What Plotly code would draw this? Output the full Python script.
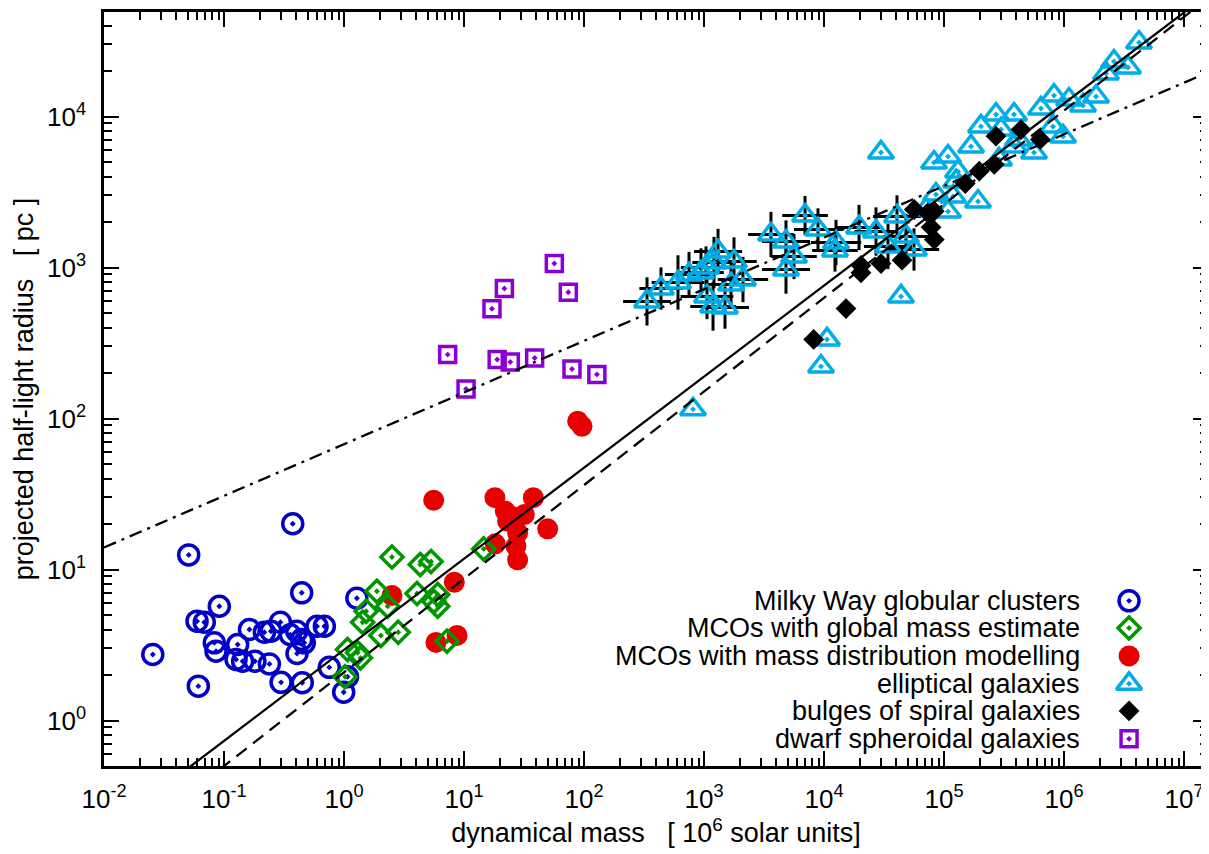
import math
import plotly.graph_objects as go

# ---------------- data (mass in 10^6 solar units, radius in pc) ----------------
gc_mass = [0.0255, 0.0508, 0.0611, 0.374, 0.444, 0.0914, 0.0596, 0.0685, 0.083, 0.0858,
           0.130, 0.126, 0.143, 0.163, 0.181, 0.217, 0.246, 0.239, 0.295, 0.357,
           0.404, 0.444, 0.467, 0.406, 0.299, 0.449, 0.596, 0.686, 0.754, 1.28,
           1.07, 0.994]
gc_rh = [2.74, 12.5, 1.69, 20.1, 7.01, 5.71, 4.55, 4.48, 3.27, 2.88,
         3.19, 2.54, 2.47, 4.01, 2.47, 3.84, 3.90, 2.37, 4.48, 3.70,
         3.90, 3.44, 3.27, 2.78, 1.79, 1.78, 4.21, 4.21, 2.25, 6.46,
         1.95, 1.54]

mco_glob_mass = [2.51, 4.32, 5.31, 1.88, 2.31, 1.53, 1.43, 2.03, 2.83, 4.06,
                 6.04, 6.04, 5.62, 1.07, 1.30, 1.37, 1.02, 7.21, 14.6]
mco_glob_rh = [12.1, 10.8, 11.3, 7.18, 5.71, 5.30, 4.48, 3.66, 3.84, 6.93,
               6.83, 5.71, 6.14, 2.95, 2.81, 2.60, 1.95, 3.35, 13.7]

mco_mod_mass = [2.51, 8.30, 5.84, 8.75, 5.59, 18.1, 37.8, 22.1, 23.1, 31.8,
                28.0, 49.8, 18.2, 27.1, 28.0, 88.6, 96.2, 25.6]
mco_mod_rh = [6.73, 8.24, 3.29, 3.66, 28.8, 29.9, 29.9, 24.3, 20.9, 23.1,
              17.5, 18.6, 14.8, 14.3, 11.6, 96.0, 88.9, 22.4]

# ellipticals with error bars (errors in dex)
ell_err_mass = [335, 438, 607, 750, 944, 1040, 1211, 1309, 1778, 1679,
                1059, 1189, 1496, 2113, 3614, 4822, 5623, 4822, 6950, 8913,
                12590, 12350, 19590, 27120, 40570, 48220, 56230, 34150]
ell_err_rh = [596, 726, 796, 899, 927, 1000, 1079, 1277, 1096, 771,
              643, 552, 543, 833, 1655, 1486, 1183, 970, 2208, 1786,
              1465, 1297, 1841, 1731, 2177, 1604, 1316, 1377]
ell_dex_m = [0.20, 0.18, 0.22, 0.20, 0.19, 0.21, 0.18, 0.20, 0.19, 0.20,
             0.22, 0.19, 0.20, 0.21, 0.19, 0.20, 0.19, 0.20, 0.19, 0.20,
             0.21, 0.19, 0.20, 0.18, 0.20, 0.19, 0.21, 0.20]
ell_dex_r = [0.16, 0.14, 0.18, 0.15, 0.16, 0.14, 0.17, 0.15, 0.16, 0.14,
             0.15, 0.16, 0.14, 0.15, 0.15, 0.14, 0.15, 0.16, 0.13, 0.14,
             0.15, 0.14, 0.15, 0.16, 0.14, 0.15, 0.14, 0.15]

ell_mass = [43850, 10590, 9441, 810, 29850, 82570, 108000, 130900, 118900, 191900,
            108000, 167900, 203200, 271200, 383100, 298500, 643100, 825700, 1.101e6, 1.439e6,
            1.849e6, 981700, 809700, 562300, 383100, 287400, 2.239e6, 2.61e6, 3.415e6, 4.217e6,
            125900, 413700, 85700, 70800]
ell_rh = [643, 334, 221, 115, 5777, 4957, 5433, 4325, 2953, 2735,
          2349, 6330, 8590, 10310, 10310, 8203, 11300, 13770, 12960, 11830,
          13560, 7375, 8590, 5777, 6330, 5192, 19270, 23130, 21120, 30900,
          3714, 7047, 3043, 2421]

bulge_mass = [8200, 15250, 20330, 20330, 29850, 44700, 83000, 78000, 56550, 83000,
              73100, 150450, 196800, 262400, 271000, 438500, 634600]
bulge_rh = [334, 535, 923, 1031, 1062, 1118, 1531, 1849, 2421, 2360,
            2302, 3597, 4345, 4812, 7410, 8190, 7050]

dsph_mass = [56.6, 21.7, 74.0, 17.1, 7.31, 18.9, 24.3, 38.8, 79.4, 128, 10.4]
dsph_rh = [1062, 726, 686, 533, 265, 246, 237, 252, 213, 196, 157]

# fitted relations: log10(R) = a + b*log10(M)
fit_solid = (0.468, 0.603)
fit_dash = (0.319, 0.620)
fit_dashdot = (1.830, 0.342)
fit_mass = [1e-2, 2e7]

x_ticks = [1e-2, 1e-1, 1e0, 1e1, 1e2, 1e3, 1e4, 1e5, 1e6, 1e7]
x_ticktext = ["10<sup>-2</sup>", "10<sup>-1</sup>", "10<sup>0</sup>", "10<sup>1</sup>",
              "10<sup>2</sup>", "10<sup>3</sup>", "10<sup>4</sup>", "10<sup>5</sup>",
              "10<sup>6</sup>", "10<sup>7</sup>"]
y_ticks = [1e0, 1e1, 1e2, 1e3, 1e4]
y_ticktext = ["10<sup>0</sup>", "10<sup>1</sup>", "10<sup>2</sup>", "10<sup>3</sup>", "10<sup>4</sup>"]

legend_labels = ["Milky Way globular clusters", "MCOs with global mass estimate",
                 "MCOs with mass distribution modelling", "elliptical galaxies",
                 "bulges of spiral galaxies", "dwarf spheroidal galaxies"]

# ---------------- styles ----------------
BLUE = "#0000c8"
GREEN = "#009600"
RED = "#e60000"
CYAN = "#00ade6"
PURPLE = "#8a00d4"
BLACK = "#000000"

sty = [
    dict(symbol="circle-open-dot", size=20, color=BLUE, line=dict(width=3.5, color=BLUE)),
    dict(symbol="diamond-open-dot", size=17, color=GREEN, line=dict(width=3.5, color=GREEN)),
    dict(symbol="circle", size=21, color=RED, line=dict(width=0)),
    dict(symbol="triangle-up-open-dot", size=22, color=CYAN, line=dict(width=3.5, color=CYAN)),
    dict(symbol="diamond", size=16, color=BLACK, line=dict(width=0)),
    dict(symbol="square-open-dot", size=16, color=PURPLE, line=dict(width=3.5, color=PURPLE)),
]

fig = go.Figure()

# ellipticals with error bars
ex_p = [m * (10 ** e - 1) for m, e in zip(ell_err_mass, ell_dex_m)]
ex_m = [m * (1 - 10 ** -e) for m, e in zip(ell_err_mass, ell_dex_m)]
ey_p = [r * (10 ** e - 1) for r, e in zip(ell_err_rh, ell_dex_r)]
ey_m = [r * (1 - 10 ** -e) for r, e in zip(ell_err_rh, ell_dex_r)]
fig.add_trace(go.Scatter(
    x=ell_err_mass, y=ell_err_rh, mode="markers", marker=sty[3],
    error_x=dict(type="data", symmetric=False, array=ex_p, arrayminus=ex_m,
                 color=BLACK, thickness=3, width=0),
    error_y=dict(type="data", symmetric=False, array=ey_p, arrayminus=ey_m,
                 color=BLACK, thickness=3, width=0),
    showlegend=False))
fig.add_trace(go.Scatter(x=ell_mass, y=ell_rh, mode="markers", marker=sty[3], showlegend=False))
fig.add_trace(go.Scatter(x=bulge_mass, y=bulge_rh, mode="markers", marker=sty[4], showlegend=False))
fig.add_trace(go.Scatter(x=dsph_mass, y=dsph_rh, mode="markers", marker=sty[5], showlegend=False))
fig.add_trace(go.Scatter(x=gc_mass, y=gc_rh, mode="markers", marker=sty[0], showlegend=False))
fig.add_trace(go.Scatter(x=mco_mod_mass, y=mco_mod_rh, mode="markers", marker=sty[2], showlegend=False))
fig.add_trace(go.Scatter(x=mco_glob_mass, y=mco_glob_rh, mode="markers", marker=sty[1], showlegend=False))

# fit lines
for (a, b), dash in [(fit_solid, "solid"), (fit_dash, "13px,8px"), (fit_dashdot, "13px,6px,3px,6px")]:
    fig.add_trace(go.Scatter(
        x=fit_mass, y=[10 ** (a + b * math.log10(m)) for m in fit_mass],
        mode="lines", line=dict(color=BLACK, width=2.3, dash=dash), showlegend=False))

# legend (gnuplot style: text right-aligned, symbol on the right) on an overlay axis
leg_rows = [0.219, 0.183, 0.146, 0.109, 0.073, 0.036]
leg_sym_x = 0.9285
for lab, yy, st in zip(legend_labels, leg_rows, sty):
    fig.add_trace(go.Scatter(x=[leg_sym_x], y=[yy], xaxis="x2", yaxis="y2", mode="markers",
                             marker=st, showlegend=False, hoverinfo="skip"))
    fig.add_annotation(text=lab, xref="paper", yref="paper", x=0.886, y=yy - 0.002,
                       xanchor="right", yanchor="middle", showarrow=False,
                       height=27, valign="bottom",
                       font=dict(family="Liberation Sans, Arial, sans-serif", size=27, color=BLACK))

minor_x = [k * 10 ** d for d in range(-2, 8) for k in range(2, 10) if k * 10 ** d <= 1.6e7]
minor_y = [k * 10 ** d for d in range(-1, 5) for k in range(2, 10) if 0.5 <= k * 10 ** d <= 5e4]

axis_common = dict(
    showgrid=False, zeroline=False, showline=True, linecolor=BLACK, linewidth=2.5,
    mirror="allticks", ticks="inside", ticklen=15, tickwidth=2, tickcolor=BLACK,
    automargin=False,
    tickfont=dict(family="Liberation Sans, Arial, sans-serif", size=26, color=BLACK),
)

# the page body has an 8px default margin: size the figure so the plot lands where the reference has it
fig.update_layout(
    width=1201, height=846,
    margin=dict(l=96, r=1, t=4, b=88),
    paper_bgcolor="white", plot_bgcolor="white",
    showlegend=False,
    xaxis=dict(type="log", range=[-2, 7.2], tickmode="array", tickvals=x_ticks, ticktext=x_ticktext,
               minor=dict(tickvals=minor_x, ticks="inside", ticklen=8, tickwidth=2, tickcolor=BLACK, showgrid=False),
               ticklabelstandoff=8,
               title=dict(text="dynamical mass   [ 10<sup>6</sup> solar units]", standoff=6,
                          font=dict(family="Liberation Sans Narrow, Liberation Sans, Arial", size=27, color=BLACK)),
               **axis_common),
    yaxis=dict(type="log", range=[-0.301, 4.692], tickmode="array", tickvals=y_ticks, ticktext=y_ticktext,
               minor=dict(tickvals=minor_y, ticks="inside", ticklen=8, tickwidth=2, tickcolor=BLACK, showgrid=False),
               ticklabelstandoff=10,
               title=dict(text="projected half-light radius   [ pc ]", standoff=6,
                          font=dict(family="Liberation Sans Narrow, Liberation Sans, Arial", size=27, color=BLACK)),
               **axis_common),
    xaxis2=dict(overlaying="x", range=[0, 1], visible=False, fixedrange=True),
    yaxis2=dict(overlaying="y", range=[0, 1], visible=False, fixedrange=True),
)

fig.write_html("out.html")
